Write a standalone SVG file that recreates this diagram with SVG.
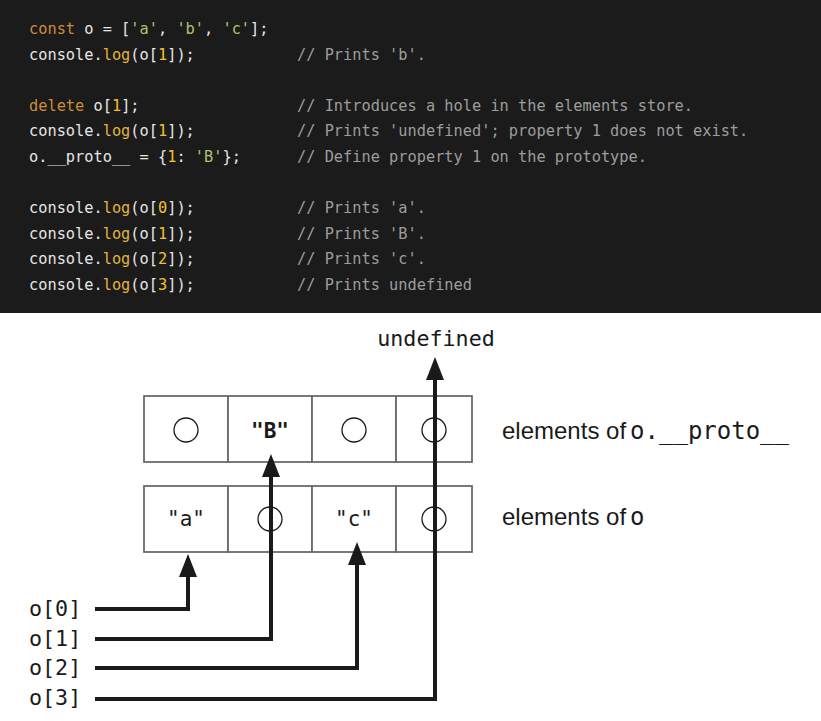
<svg xmlns="http://www.w3.org/2000/svg" width="821" height="721" viewBox="0 0 821 721">
<style>
.code{font-family:"DejaVu Sans Mono","Liberation Mono",monospace;font-size:15.3px;fill:#e6e6e6}
.kw{fill:#cf8b3a}.fn{fill:#e2b23e}.num{fill:#f2c22a}.str{fill:#a9c46e}
.cm{font-family:"DejaVu Sans Mono","Liberation Mono",monospace;font-size:15.3px;fill:#9d9d9d}
.cell{fill:#fff;stroke:#6b6b6b;stroke-width:1.8}
.hole{fill:none;stroke:#1a1a1a;stroke-width:1.3}
.val{font-family:"DejaVu Sans Mono","Liberation Mono",monospace;font-size:21px;fill:#1a1a1a;text-anchor:middle}
.lbl{font-family:"DejaVu Sans Mono","Liberation Mono",monospace;font-size:21.7px;fill:#1a1a1a}
.sans{font-family:"Liberation Sans",Arial,sans-serif;font-size:24px;fill:#1a1a1a}
.mono{font-family:"DejaVu Sans Mono","Liberation Mono",monospace;font-size:24px}
.conn{fill:none;stroke:#1a1a1a;stroke-width:4}
</style>
<defs>
<marker id="ah" viewBox="0 0 23 18" refX="3" refY="9" markerWidth="23" markerHeight="18" markerUnits="userSpaceOnUse" orient="auto">
<path d="M0,0 L23,9 L0,18 z" fill="#1a1a1a"/>
</marker>
</defs>
<g id="code">
<rect x="0" y="0" width="821" height="313" fill="#1b1b1b"/>
<text class="code" x="29" y="34"><tspan class="kw">const</tspan> o = [<tspan class="str">'a'</tspan>, <tspan class="str">'b'</tspan>, <tspan class="str">'c'</tspan>];</text>
<text class="code" x="29" y="60">console.<tspan class="fn">log</tspan>(o[<tspan class="num">1</tspan>]);</text>
<text class="cm" x="297" y="60">// Prints 'b'.</text>
<text class="code" x="29" y="111"><tspan class="kw">delete</tspan> o[<tspan class="num">1</tspan>];</text>
<text class="cm" x="297" y="111">// Introduces a hole in the elements store.</text>
<text class="code" x="29" y="136">console.<tspan class="fn">log</tspan>(o[<tspan class="num">1</tspan>]);</text>
<text class="cm" x="297" y="136">// Prints 'undefined'; property 1 does not exist.</text>
<text class="code" x="29" y="162">o.__proto__ = {<tspan class="num">1</tspan>: <tspan class="str">'B'</tspan>};</text>
<text class="cm" x="297" y="162">// Define property 1 on the prototype.</text>
<text class="code" x="29" y="213">console.<tspan class="fn">log</tspan>(o[<tspan class="num">0</tspan>]);</text>
<text class="cm" x="297" y="213">// Prints 'a'.</text>
<text class="code" x="29" y="239">console.<tspan class="fn">log</tspan>(o[<tspan class="num">1</tspan>]);</text>
<text class="cm" x="297" y="239">// Prints 'B'.</text>
<text class="code" x="29" y="264">console.<tspan class="fn">log</tspan>(o[<tspan class="num">2</tspan>]);</text>
<text class="cm" x="297" y="264">// Prints 'c'.</text>
<text class="code" x="29" y="290">console.<tspan class="fn">log</tspan>(o[<tspan class="num">3</tspan>]);</text>
<text class="cm" x="297" y="290">// Prints undefined</text>
</g>
<g id="proto-elements">
<rect class="cell" x="144" y="396" width="84" height="66"/>
<rect class="cell" x="228" y="396" width="84" height="66"/>
<rect class="cell" x="312" y="396" width="84" height="66"/>
<rect class="cell" x="396" y="396" width="76" height="66"/>
<circle class="hole" cx="186" cy="430" r="12"/>
<text class="val" x="270" y="438" font-weight="bold">"B"</text>
<circle class="hole" cx="354" cy="430" r="12"/>
<circle class="hole" cx="434" cy="430" r="12"/>
<text class="sans" x="502" y="439">elements of<tspan class="mono" dx="4">o.__proto__</tspan></text>
</g>
<g id="o-elements">
<rect class="cell" x="144" y="486" width="84" height="66"/>
<rect class="cell" x="228" y="486" width="84" height="66"/>
<rect class="cell" x="312" y="486" width="84" height="66"/>
<rect class="cell" x="396" y="486" width="76" height="66"/>
<text class="val" x="186" y="526">"a"</text>
<circle class="hole" cx="270" cy="519" r="12"/>
<text class="val" x="354" y="526">"c"</text>
<circle class="hole" cx="434" cy="519" r="12"/>
<text class="sans" x="502" y="525">elements of<tspan class="mono" dx="4">o</tspan></text>
</g>
<g id="labels">
<text class="lbl" x="29" y="616">o[0]</text>
<text class="lbl" x="29" y="646">o[1]</text>
<text class="lbl" x="29" y="675">o[2]</text>
<text class="lbl" x="29" y="705">o[3]</text>
<text class="lbl" x="436" y="346" text-anchor="middle" font-size="22.5">undefined</text>
</g>
<g id="connectors">
<path class="conn" d="M95,609 H188 V574" marker-end="url(#ah)"/>
<path class="conn" d="M95,639 H271 V474" marker-end="url(#ah)"/>
<path class="conn" d="M95,668 H357 V562" marker-end="url(#ah)"/>
<path class="conn" d="M95,699 H435 V377" marker-end="url(#ah)"/>
</g>
</svg>
